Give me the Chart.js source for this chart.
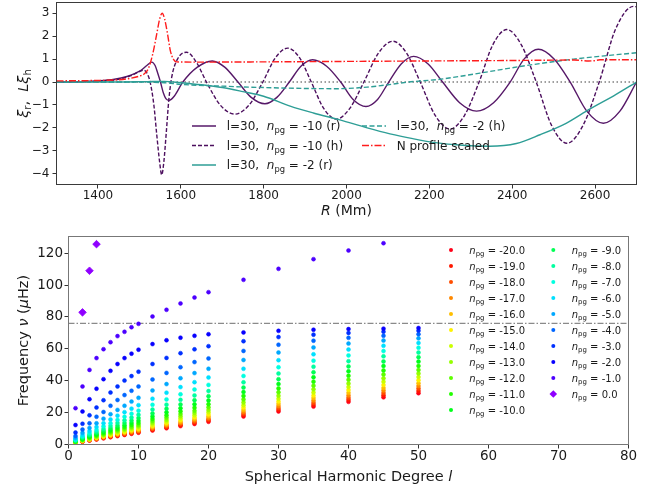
<!DOCTYPE html>
<html><head><meta charset="utf-8">
<script src="https://cdn.jsdelivr.net/npm/chart.js@4"></script>
<style>
html,body{margin:0;padding:0;background:#fff;}
#wrap{position:relative;width:662px;height:489px;background:#fff;}
canvas{position:absolute;left:0;}
</style></head><body>
<div id="wrap">
<canvas id="top" width="662" height="230" style="top:0px"></canvas>
<canvas id="bot" width="662" height="259" style="top:230px"></canvas>
</div>
<script>
// ---------------- TOP PANEL DATA ----------------
const xTopTicks = [1400,1600,1800,2000,2200,2400,2600];
const yTopTicks = [-4,-3,-2,-1,0,1,2,3];

const rPurR = [1300,1350,1400,1440,1470,1490,1505,1518,1530,1538,1545,1551,1558,1564,1572,1585,1605,1640,1676,1706,1738,1770,1803,1832,1862,1890,1918,1952,1986,2016,2047,2075,2102,2132,2162,2197,2232,2273,2314,2355,2395,2429,2463,2501,2540,2580,2620,2660,2700];
const vPurR = [0,0.01,0.05,0.12,0.24,0.38,0.52,0.72,0.87,0.72,0.35,0,-0.48,-0.72,-0.8,-0.6,0,0.65,0.92,0.65,0,-0.67,-0.95,-0.67,0,0.69,0.97,0.69,0,-0.76,-1.07,-0.76,0,0.79,1.12,0.79,0,-0.9,-1.27,-0.9,0,1.01,1.43,1.01,0,-1.27,-1.8,-1.27,0];

const rPurH = [1300,1400,1450,1480,1500,1510,1518,1526,1535,1542,1549,1554,1559,1565,1571,1578,1592,1614,1638,1662,1695,1730,1765,1798,1828,1858,1887,1915,1945,1975,2008,2042,2077,2112,2145,2178,2214,2250,2285,2320,2353,2387,2422,2458,2495,2532,2571,2610,2650,2693,2700];
const vPurH = [0,0.04,0.12,0.28,0.45,0.52,0.4,0,-1.0,-2.3,-3.5,-4.05,-3.5,-2.2,-0.8,0.2,1.0,1.3,0.85,0,-1.0,-1.4,-1.0,0,1.05,1.48,1.05,0,-1.15,-1.62,-1.15,0,1.26,1.78,1.26,0,-1.45,-2.05,-1.45,0,1.62,2.29,1.62,0,-1.89,-2.67,-1.89,0,2.33,3.3,3.28];

const rTealR = [1300,1450,1520,1560,1600,1650,1700,1750,1800,1864,1920,1984,2050,2105,2160,2210,2280,2346,2410,2467,2530,2588,2645,2700];
const vTealR = [0,0,0.02,0.03,-0.03,-0.12,-0.24,-0.42,-0.62,-1.05,-1.35,-1.65,-2.0,-2.26,-2.47,-2.63,-2.76,-2.8,-2.68,-2.3,-1.8,-1.17,-0.6,0];

const rTealH = [1300,1500,1560,1600,1700,1800,1900,1980,2050,2100,2150,2225,2322,2427,2548,2700];
const vTealH = [0,0,-0.03,-0.1,-0.18,-0.24,-0.28,-0.29,-0.22,-0.12,0,0.12,0.39,0.7,1.0,1.28];

const rNprof = [1300,1400,1450,1480,1500,1512,1522,1532,1542,1549,1555,1561,1568,1575,1582,1590,1650,1800,2000,2200,2400,2550,2585,2598,2612,2700];
const vNprof = [0.05,0.07,0.1,0.17,0.26,0.36,0.6,1.2,2.1,2.75,3.0,2.75,2.1,1.35,1.0,0.88,0.87,0.88,0.9,0.92,0.94,0.96,0.92,0.93,0.97,0.97];

const rZero = [1300,2700];
const vZero = [0,0];

// ---------------- BOTTOM PANEL DATA ----------------
const xBotTicks = [0,10,20,30,40,50,60,70,80];
const yBotTicks = [0,20,40,60,80,100,120];
const degrees = [1,2,3,4,5,6,7,8,9,10,12,14,16,18,20,25,30,35,40,45,50];
const nValues = [-20,-19,-18,-17,-16,-15,-14,-13,-12,-11,-10,-9,-8,-7,-6,-5,-4,-3,-2,-1,0];
const nColors = ['#ff0018','#ff1800','#ff4d00','#ff8800','#ffbf00','#fff200','#ccff00','#95ff00','#5eff00','#22ff00','#00ff1a','#00ff55','#00ffa0','#00ffe0','#00e0ff','#00a8ff','#0066ff','#0030ff','#0800ff','#4c00ff','#8f00ff'];

const f20 = [1.0,1.74,2.45,3.17,3.88,4.58,5.29,6.0,6.7,7.39,8.79,10.2,11.55,12.9,14.26,17.6,20.75,23.8,26.75,29.6,32.2];
const f19 = [1.06,1.83,2.59,3.34,4.08,4.83,5.57,6.32,7.05,7.8,9.26,10.7,12.15,13.6,15.0,18.5,21.8,25.0,28.0,30.9,33.6];
const f18 = [1.12,1.93,2.73,3.53,4.32,5.1,5.9,6.67,7.45,8.23,9.78,11.3,12.8,14.3,15.8,19.5,22.9,26.2,29.3,32.3,35.1];
const f17 = [1.18,2.05,2.9,3.74,4.57,5.4,6.24,7.07,7.9,8.7,10.35,12.0,13.6,15.15,16.7,20.6,24.1,27.6,30.8,33.9,36.7];
const f16 = [1.26,2.18,3.1,4.0,4.9,5.75,6.6,7.5,8.4,9.3,11.0,12.7,14.4,16.1,17.7,21.8,25.5,29.1,32.4,35.5,38.4];
const f15 = [1.35,2.33,3.3,4.25,5.2,6.15,7.1,8.0,9.0,9.9,11.7,13.6,15.4,17.1,18.9,23.2,27.0,30.7,34.2,37.4,40.3];
const f14 = [1.44,2.5,3.5,4.6,5.6,6.6,7.6,8.6,9.6,10.6,12.6,14.5,16.4,18.3,20.2,24.7,28.7,32.6,36.1,39.4,42.3];
const f13 = [1.56,2.7,3.8,4.9,6.0,7.1,8.2,9.3,10.4,11.4,13.6,15.6,17.7,19.7,21.6,26.4,30.6,34.6,38.2,41.5,44.5];
const f12 = [1.7,2.9,4.1,5.3,6.5,7.7,8.9,10.1,11.2,12.4,14.7,16.9,19.1,21.2,23.3,28.3,32.8,36.9,40.6,43.9,46.8];
const f11 = [1.85,3.2,4.5,5.8,7.2,8.4,9.7,11.0,12.3,13.5,16.0,18.4,20.8,23.1,25.3,30.5,35.2,39.4,43.1,46.4,49.3];
const f10 = [2.0,3.5,5.0,6.5,7.9,9.3,10.7,12.1,13.5,14.9,17.6,20.2,22.8,25.2,27.6,32.9,37.9,42.2,45.9,49.2,52.0];
const f9 = [2.3,4.0,5.6,7.2,8.8,10.4,11.9,13.5,15.0,16.6,19.5,22.4,25.1,27.8,30.3,35.7,41.0,45.3,49.0,52.1,54.8];
const f8 = [2.6,4.5,6.3,8.1,9.9,11.7,13.5,15.2,16.9,18.6,21.9,25.0,28.0,30.8,33.5,39.0,44.5,48.8,52.3,55.3,57.7];
const f7 = [3.0,5.1,7.3,9.3,11.4,13.4,15.4,17.4,19.3,21.2,24.9,28.3,31.5,34.5,37.4,43.0,48.5,52.6,55.9,58.6,60.7];
const f6 = [3.5,6.1,8.5,11.0,13.4,15.7,18.1,20.3,22.5,24.7,28.7,32.5,36.0,39.1,42.1,47.5,52.9,56.6,59.6,61.9,63.7];
const f5 = [4.3,7.4,10.4,13.3,16.2,19.0,21.7,24.3,26.9,29.3,33.9,37.9,41.6,44.8,47.5,53.0,57.7,60.9,63.3,65.2,66.6];
const f4 = [5.4,9.4,13.3,17.4,20.4,24.3,27.9,31.0,33.7,36.4,40.8,44.9,48.5,51.7,54.0,58.7,62.6,65.1,66.9,68.2,69.2];
const f3 = [7.5,13.0,18.3,23.2,27.8,32.6,36.4,40.1,42.9,45.7,50.5,54.3,57.3,59.7,61.7,64.8,67.4,68.9,70.0,70.8,71.4];
const f2 = [12.2,20.7,28.4,35.0,41.0,46.2,50.5,54.2,57.0,59.5,63.0,65.4,67.0,68.2,69.2,70.3,71.3,72.0,72.4,72.7,73.1];
const f1 = [22.8,36.4,46.8,54.2,59.8,64.2,68.0,70.7,73.6,75.7,80.3,84.5,88.5,92.2,95.6,103.3,110.2,116.3,121.7,126.3,null];
const fModeDeg = [2,3,4];
const f0 = [82.9,109.0,125.7];
const freqByN = [f20,f19,f18,f17,f16,f15,f14,f13,f12,f11,f10,f9,f8,f7,f6,f5,f4,f3,f2,f1];

const hLineX = [0,80];
const hLineY = [76,76];

// ---------------- HELPERS ----------------
const FAM = '"DejaVu Sans", sans-serif';
const TXT = '#1a1a1a';
function pts(xs, ys){ return xs.map((x,i)=>({x:x, y:ys[i]})); }
function rich(ctx, parts, x, y, size, align){
  const segs = parts.map(p=>{
    const t=p[0], st=p[1];
    const sub = st==='s';
    const fs = sub ? size*0.7 : size;
    const font = (st==='i' ? 'italic ' : '') + fs + 'px ' + FAM;
    ctx.font = font;
    return {t:t, font:font, w:ctx.measureText(t).width, dy: sub ? size*0.24 : 0};
  });
  const total = segs.reduce((a,s)=>a+s.w,0);
  let cx = align==='center' ? x-total/2 : (align==='right' ? x-total : x);
  ctx.textBaseline='alphabetic';
  ctx.textAlign='left';
  for (const s of segs){ ctx.font=s.font; ctx.fillText(s.t, cx, y+s.dy); cx+=s.w; }
}
const framePlugin = {
  id:'frame',
  afterDraw(chart, args, opts){
    const ctx=chart.ctx, a=chart.chartArea;
    ctx.save(); ctx.setLineDash([]); ctx.strokeStyle=opts.color; ctx.lineWidth=1;
    ctx.strokeRect(a.left, a.top, a.right-a.left, a.bottom-a.top);
    ctx.restore();
  }
};
function minusFmt(v){ return v<0 ? '\u2212'+Math.abs(v) : String(v); }
function fixX(h){ return s=>{ s.height=h; s.paddingLeft=0; s.paddingRight=0; s.paddingTop=0; s.paddingBottom=0; }; }
function fixY(w){ return s=>{ s.width=w; s.paddingLeft=0; s.paddingRight=0; s.paddingTop=0; s.paddingBottom=0; }; }

// ---------------- TOP CHART ----------------
const COL_PUR = '#561868', COL_PURD = '#4c0f5e', COL_TEAL = '#2e9e96', COL_RED = '#ff1c1c';
const lineBase = {pointRadius:0, borderWidth:1.4, fill:false, cubicInterpolationMode:'monotone'};
const topLegend = [
  {x0:192, y:126, color:COL_PUR, dash:[], parts:[['l=30,  ','n'],['n','i'],['pg','s'],[' = -10 (r)','n']]},
  {x0:192, y:145.5, color:COL_PURD, dash:[4,2], parts:[['l=30,  ','n'],['n','i'],['pg','s'],[' = -10 (h)','n']]},
  {x0:192, y:165, color:COL_TEAL, dash:[], parts:[['l=30,  ','n'],['n','i'],['pg','s'],[' = -2 (r)','n']]},
  {x0:362, y:126, color:COL_TEAL, dash:[5,2.5], parts:[['l=30,  ','n'],['n','i'],['pg','s'],[' = -2 (h)','n']]},
  {x0:362, y:145.5, color:COL_RED, dash:[7,2,1.5,2], parts:[['N profile scaled','n']]}
];
const topDeco = {
  id:'topDeco',
  afterDraw(chart){
    const ctx=chart.ctx, a=chart.chartArea;
    ctx.save();
    ctx.fillStyle=TXT;
    rich(ctx, [['R','i'],[' (Mm)','n']], (a.left+a.right)/2, 215, 14, 'center');
    ctx.save(); ctx.translate(23, (a.top+a.bottom)/2); ctx.rotate(-Math.PI/2);
    rich(ctx, [['\u03be','i'],['r','s'],[',  ','n'],['L','i'],['\u03be','i'],['h','s']], 0, 5, 14.5, 'center');
    ctx.restore();
    for (const e of topLegend){
      ctx.save(); ctx.strokeStyle=e.color; ctx.lineWidth=1.5; ctx.setLineDash(e.dash);
      ctx.beginPath(); ctx.moveTo(e.x0, e.y); ctx.lineTo(e.x0+24, e.y); ctx.stroke(); ctx.restore();
      ctx.fillStyle=TXT;
      rich(ctx, e.parts, e.x0+34.7, e.y+4.3, 12, 'left');
    }
    ctx.restore();
  }
};
new Chart(document.getElementById('top'), {
  type:'line',
  data:{datasets:[
    Object.assign({data:pts(rNprof,vNprof), borderColor:COL_RED, borderDash:[7,2,1.5,2]}, lineBase),
    Object.assign({data:pts(rTealH,vTealH), borderColor:COL_TEAL, borderDash:[5,2.5]}, lineBase),
    Object.assign({data:pts(rTealR,vTealR), borderColor:COL_TEAL}, lineBase),
    Object.assign({data:pts(rPurH,vPurH), borderColor:COL_PURD, borderDash:[4,2]}, lineBase),
    Object.assign({data:pts(rPurR,vPurR), borderColor:COL_PUR}, lineBase),
    Object.assign({data:pts(rZero,vZero), borderColor:'#808080', borderDash:[1.5,2.5]}, lineBase, {cubicInterpolationMode:'default'})
  ]},
  options:{
    responsive:false, animation:false, devicePixelRatio:1, events:[],
    layout:{padding:{left:0,right:25.5,top:2.5,bottom:0}},
    plugins:{legend:{display:false}, tooltip:{enabled:false}, frame:{color:'#3a3a3a'}},
    scales:{
      x:{type:'linear', min:1300, max:2700,
        afterBuildTicks:s=>{ s.ticks = xTopTicks.map(v=>({value:v})); },
        afterFit:fixX(45.5),
        ticks:{font:{family:FAM,size:12}, color:TXT, padding:0, autoSkip:false, maxRotation:0, callback:v=>String(v)},
        grid:{drawOnChartArea:false, drawTicks:true, tickLength:4, color:'#333'},
        border:{display:false}},
      y:{type:'linear', min:-4.47, max:3.47,
        afterBuildTicks:s=>{ s.ticks = yTopTicks.map(v=>({value:v})); },
        afterFit:fixY(56.5),
        ticks:{font:{family:FAM,size:12}, color:TXT, padding:3, autoSkip:false, callback:v=>minusFmt(v)},
        grid:{drawOnChartArea:false, drawTicks:true, tickLength:4, color:'#333'},
        border:{display:false}}
    }
  },
  plugins:[framePlugin, topDeco]
});

// ---------------- BOTTOM CHART ----------------
const botDatasets = [];
botDatasets.push({data:pts(fModeDeg,f0), pointStyle:'rectRot', pointRadius:3.8, backgroundColor:nColors[20], borderColor:nColors[20], borderWidth:0.8, showLine:false});
for (let i=freqByN.length-1;i>=0;i--){
  botDatasets.push({data:pts(degrees,freqByN[i]), pointStyle:'circle', pointRadius:2, backgroundColor:nColors[i], borderColor:nColors[i], borderWidth:0.5, showLine:false});
}
botDatasets.push({data:pts(hLineX,hLineY), showLine:true, pointRadius:0, borderColor:'#8a8a8a', borderWidth:1.4, borderDash:[6,2,1.5,2], fill:false});

const botDeco = {
  id:'botDeco',
  afterDraw(chart){
    const ctx=chart.ctx, a=chart.chartArea;
    ctx.save(); ctx.fillStyle=TXT;
    rich(ctx, [['Spherical Harmonic Degree ','n'],['l','i']], (a.left+a.right)/2, 251, 14.5, 'center');
    ctx.save(); ctx.translate(22.5, (a.top+a.bottom)/2); ctx.rotate(-Math.PI/2);
    rich(ctx, [['Frequency ','n'],['\u03bd','i'],[' (','n'],['\u03bc','i'],['Hz)','n']], 0, 5.2, 14.5, 'center');
    ctx.restore();
    for (let i=0;i<nValues.length;i++){
      const col = i<11 ? 0 : 1;
      const row = i<11 ? i : i-11;
      const mx = col===0 ? 451 : 553.3;
      const tx = col===0 ? 469.3 : 571.7;
      const y = 20 + 16*row;
      ctx.fillStyle = nColors[i];
      ctx.beginPath();
      if (nValues[i]===0){ const r=3.8; ctx.moveTo(mx-r,y); ctx.lineTo(mx,y-r); ctx.lineTo(mx+r,y); ctx.lineTo(mx,y+r); ctx.closePath(); }
      else { ctx.arc(mx,y,2,0,Math.PI*2); }
      ctx.fill();
      ctx.fillStyle=TXT;
      rich(ctx, [['n','i'],['pg','s'],[' = '+nValues[i].toFixed(1),'n']], tx, y+3.6, 10, 'left');
    }
    ctx.restore();
  }
};
new Chart(document.getElementById('bot'), {
  type:'scatter',
  data:{datasets:botDatasets},
  options:{
    responsive:false, animation:false, devicePixelRatio:1, events:[],
    layout:{padding:{left:0,right:33.5,top:6.5,bottom:0}},
    plugins:{legend:{display:false}, tooltip:{enabled:false}, frame:{color:'#777'}},
    scales:{
      x:{type:'linear', min:0, max:80,
        afterBuildTicks:s=>{ s.ticks = xBotTicks.map(v=>({value:v})); },
        afterFit:fixX(44.5),
        ticks:{font:{family:FAM,size:13.5}, color:TXT, padding:0, autoSkip:false, maxRotation:0, callback:v=>String(v)},
        grid:{drawOnChartArea:false, drawTicks:true, tickLength:4, color:'#333'},
        border:{display:false}},
      y:{type:'linear', min:0, max:130.5,
        afterBuildTicks:s=>{ s.ticks = yBotTicks.map(v=>({value:v})); },
        afterFit:fixY(68.5),
        ticks:{font:{family:FAM,size:13.5}, color:TXT, padding:1.5, autoSkip:false, callback:v=>String(v)},
        grid:{drawOnChartArea:false, drawTicks:true, tickLength:4, color:'#333'},
        border:{display:false}}
    }
  },
  plugins:[framePlugin, botDeco]
});
</script>
</body></html>
